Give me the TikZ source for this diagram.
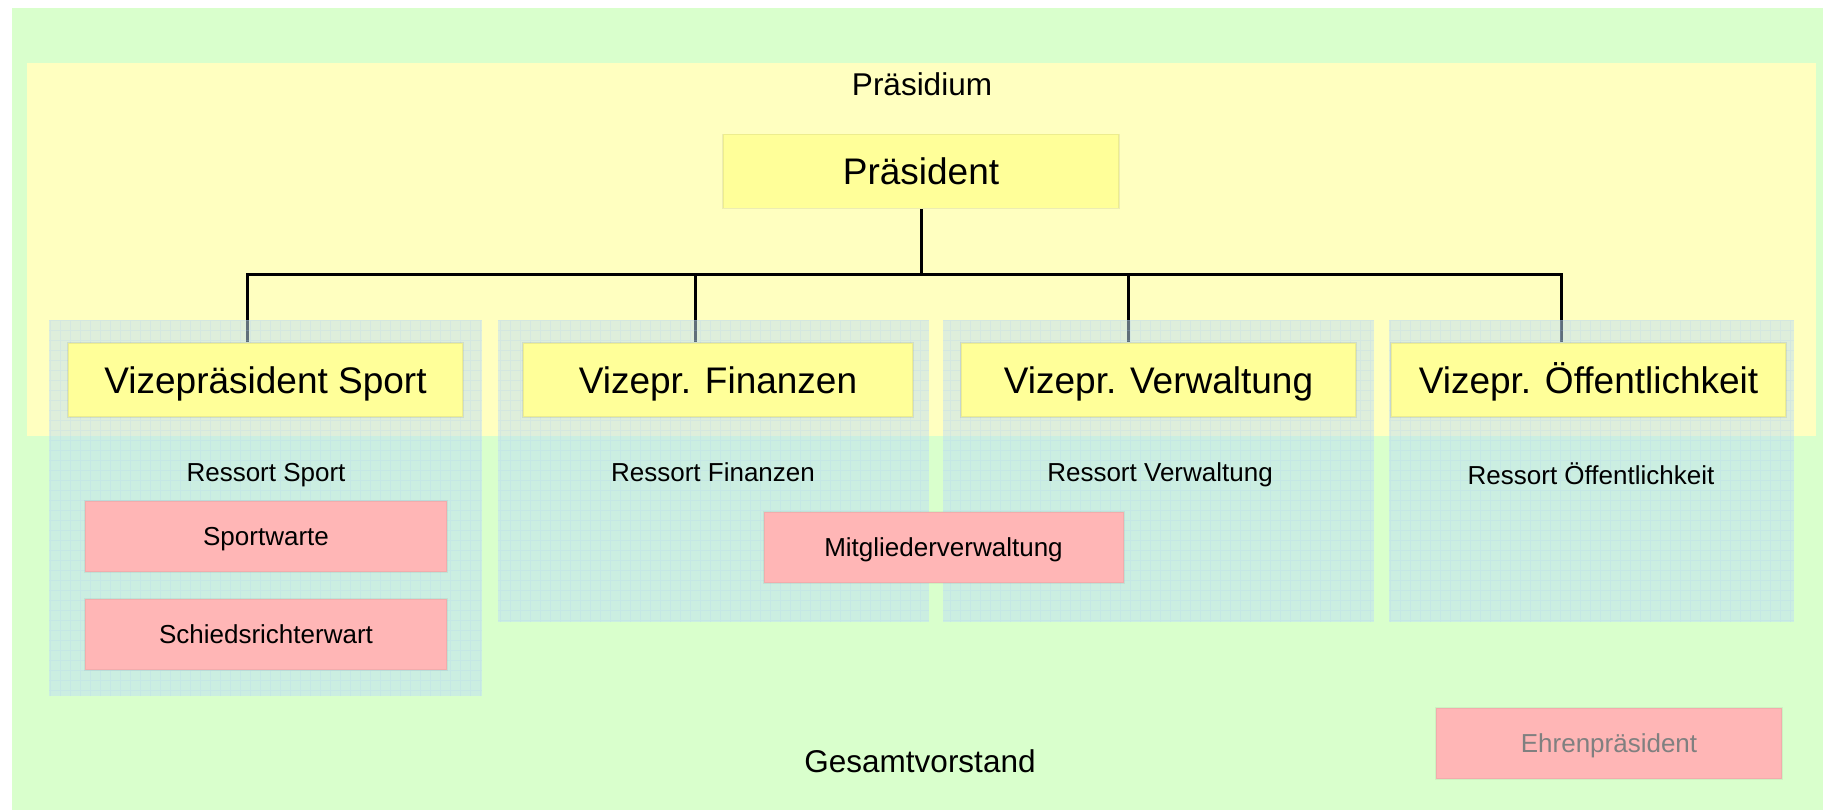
\documentclass[tikz,border=0pt]{standalone}
\usepackage{fontspec}
\setmainfont{Liberation Sans}
\definecolor{bggreen}{RGB}{217,255,204}
\definecolor{bandyellow}{RGB}{255,255,192}
\definecolor{vpyellow}{RGB}{255,255,153}
\definecolor{boxred}{RGB}{255,182,182}
\definecolor{ressortblue}{RGB}{191,223,247}
\definecolor{gridblue}{RGB}{170,200,250}
\definecolor{ehrengray}{RGB}{128,128,128}
\pgfdeclarelayer{bg}
\pgfdeclarelayer{lines}
\pgfdeclarelayer{ress}
\pgfsetlayers{bg,lines,ress,main}
\begin{document}
\begin{tikzpicture}[x=1pt,y=-1pt,
  bigtxt/.style={font=\fontsize{37}{44}\selectfont, text height=26.5pt, text depth=0pt, inner sep=0pt},
  midtxt/.style={font=\fontsize{31.5}{38}\selectfont, inner sep=0pt},
  smalltxt/.style={font=\fontsize{26}{31}\selectfont, inner sep=0pt},
  smallbox/.style={font=\fontsize{26}{31}\selectfont, text height=18.6pt, text depth=0pt, inner sep=0pt},
  vpbox/.style={bigtxt, fill=vpyellow, draw=black, draw opacity=0.07, line width=1.5pt, minimum height=74pt},
  redbox/.style={smallbox, fill=boxred, draw=black, draw opacity=0.05, line width=2pt, minimum height=71pt},
  ressort/.style={fill=ressortblue, fill opacity=0.5},
  gridline/.style={draw=gridblue, opacity=0.18, line width=0.5pt},
  conn/.style={line width=3pt, black}
]
\useasboundingbox (0,0) rectangle (1823,810);
\begin{pgfonlayer}{bg}
  \fill[white] (0,0) rectangle (1823,810);
  \fill[bggreen] (12,8) rectangle (1823,810);
  \fill[bandyellow] (27,63) rectangle (1816,436);
\end{pgfonlayer}

% Ressort areas
\begin{pgfonlayer}{ress}
  \fill[ressort] (49,320) rectangle (482,696);
  \fill[ressort] (498,320) rectangle (929,622);
  \fill[ressort] (943,320) rectangle (1374,622);
  \fill[ressort] (1389,320) rectangle (1794,622);
  \draw[gridline] (49,696) grid[step=10pt] (482,320);
  \draw[gridline] (498,622) grid[step=10pt] (929,320);
  \draw[gridline] (943,622) grid[step=10pt] (1374,320);
  \draw[gridline] (1389,622) grid[step=10pt] (1794,320);
\end{pgfonlayer}

% Labels
\node[midtxt, anchor=base] (praesidium) at (922,96) {Präsidium};
\node[midtxt, anchor=base] (gesamt) at (920,772) {Gesamtvorstand};
\node[smalltxt, anchor=base] (rsport) at (266,481) {Ressort Sport};
\node[smalltxt, anchor=base] (rfin) at (713,481) {Ressort Finanzen};
\node[smalltxt, anchor=base] (rverw) at (1160,481) {Ressort Verwaltung};
\node[smalltxt, anchor=base] (roeff) at (1591,484) {Ressort Öffentlichkeit};

% Boxes
\node[vpbox, minimum width=396pt] (pres) at (921,171.5) {Präsident};
\node[vpbox, minimum width=395pt] (vp1) at (265.5,380) {Vizepräsident Sport};
\node[vpbox, minimum width=390pt] (vp2) at (718,380) {Vizepr. Finanzen};
\node[vpbox, minimum width=395pt] (vp3) at (1158.5,380) {Vizepr. Verwaltung};
\node[vpbox, minimum width=395pt] (vp4) at (1588.5,380) {Vizepr. Öffentlichkeit};

\node[redbox, minimum width=362pt] (sportw) at (266,536.5) {Sportwarte};
\node[redbox, minimum width=362pt] (schieds) at (266,634) {Schiedsrichterwart};
\node[redbox, minimum width=360pt] (mitgl) at (943.5,547.5) {Mitgliederverwaltung};
\node[redbox, minimum width=346pt, text=ehrengray] (ehren) at (1609,743.5) {Ehrenpräsident};

% Connectors
\coordinate (bus1) at (247,275);
\coordinate (bus2) at (695,275);
\coordinate (bus3) at (1128,275);
\coordinate (bus4) at (1561,275);
\begin{pgfonlayer}{lines}
  \draw[conn] (pres.south) -- (pres.south |- bus1);
  \draw[conn] (bus1 |- vp1.north) -- (bus1) -- (bus4) -- (bus4 |- vp4.north);
  \draw[conn] (bus2) -- (bus2 |- vp2.north);
  \draw[conn] (bus3) -- (bus3 |- vp3.north);
\end{pgfonlayer}
\end{tikzpicture}
\end{document}
